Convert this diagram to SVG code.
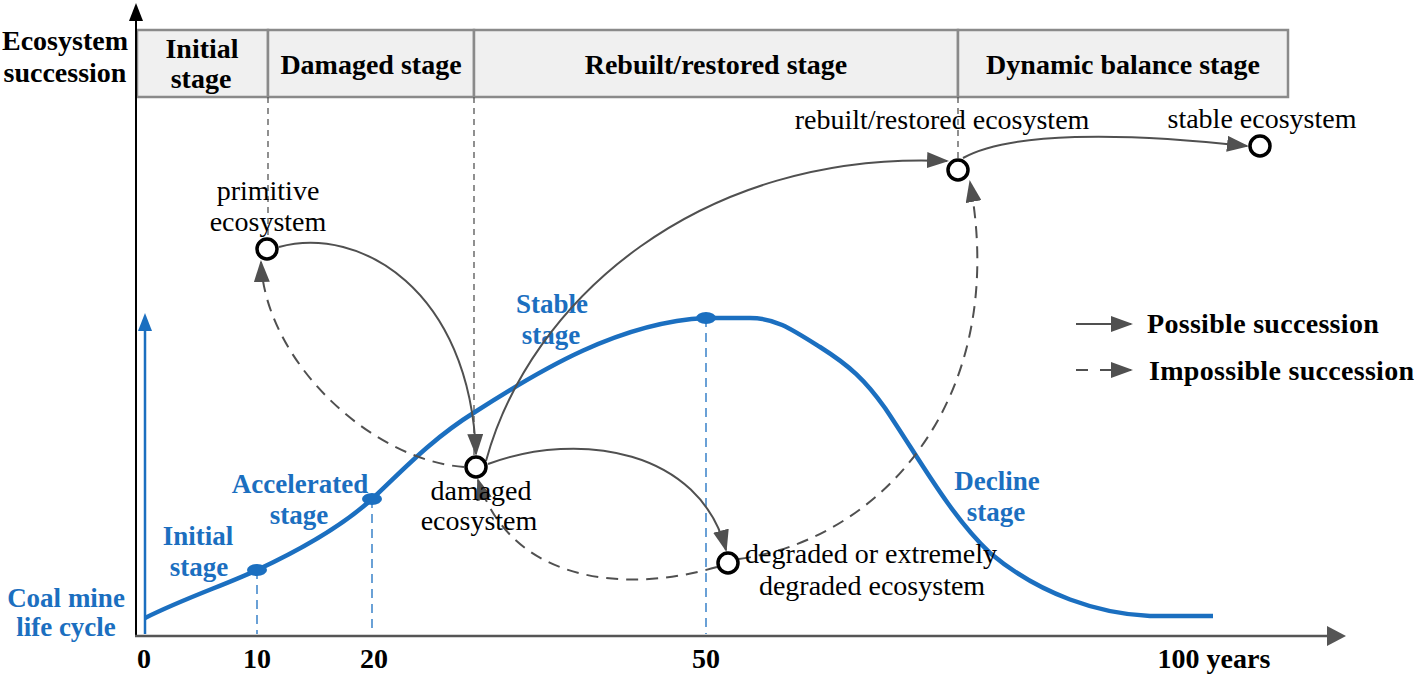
<svg xmlns="http://www.w3.org/2000/svg" width="1416" height="676" viewBox="0 0 1416 676">
<style>
.hdr{font-family:"Liberation Serif",serif;font-weight:bold;font-size:28px;fill:#000;text-anchor:middle}
.lbl{font-family:"Liberation Serif",serif;font-size:28px;fill:#000;text-anchor:middle}
.blue{font-family:"Liberation Serif",serif;font-weight:bold;font-size:27px;fill:#1b6fc0;text-anchor:middle}
.leg{font-family:"Liberation Serif",serif;font-weight:bold;font-size:28px;fill:#000;letter-spacing:0.3px}
.node{fill:#fff;stroke:#000;stroke-width:3.5}
.solid{fill:none;stroke:#505050;stroke-width:2}
.dash{fill:none;stroke:#505050;stroke-width:2;stroke-dasharray:12 8}
.gdash{fill:none;stroke:#555;stroke-width:1.3;stroke-dasharray:6 5}
.bdash{fill:none;stroke:#1b6fc0;stroke-width:1.3;stroke-dasharray:9 6}
.cell{fill:#f0f0f0;stroke:#8a8a8a;stroke-width:2.5}
</style>
<defs>
<marker id="ah" markerWidth="22" markerHeight="16" refX="20" refY="8" orient="auto" markerUnits="userSpaceOnUse">
<path d="M0,0 L22,8 L0,16 z" fill="#505050"/>
</marker>
</defs>

<!-- header table -->
<g id="header">
<rect class="cell" x="137" y="30" width="131" height="67"/>
<rect class="cell" x="268" y="30" width="206" height="67"/>
<rect class="cell" x="474" y="30" width="484" height="67"/>
<rect class="cell" x="958" y="30" width="330" height="67"/>
<text class="hdr" x="202" y="58">Initial</text>
<text class="hdr" x="201" y="88">stage</text>
<text class="hdr" x="371" y="74">Damaged stage</text>
<text class="hdr" x="716" y="74">Rebuilt/restored stage</text>
<text class="hdr" x="1123" y="74">Dynamic balance stage</text>
<text class="hdr" x="65" y="50">Ecosystem</text>
<text class="hdr" x="65" y="82">succession</text>
</g>

<!-- gray dashed stage guides -->
<g id="guides">
<line class="gdash" x1="268" y1="97" x2="268" y2="238"/>
<line class="gdash" x1="474" y1="97" x2="474" y2="455"/>
<line class="gdash" x1="958" y1="97" x2="958" y2="158"/>
</g>

<!-- axes -->
<g id="axes">
<line x1="136" y1="636" x2="136" y2="18" stroke="#000" stroke-width="2"/>
<path d="M136,3 L129,21 L143,21 z" fill="#000"/>
<line x1="135" y1="636" x2="1330" y2="636" stroke="#555" stroke-width="2.5"/>
<path d="M1346,636 L1327,626 L1327,646 z" fill="#555"/>
<line x1="145" y1="634" x2="145" y2="328" stroke="#1b6fc0" stroke-width="2.5"/>
<path d="M145,313 L138,331 L152,331 z" fill="#1b6fc0"/>
<text class="hdr" x="144" y="668">0</text>
<text class="hdr" x="257" y="668">10</text>
<text class="hdr" x="374" y="668">20</text>
<text class="hdr" x="706" y="668">50</text>
<text class="hdr" x="1214" y="668">100 years</text>
</g>

<!-- coal mine life cycle curve -->
<g id="lifecycle">
<line class="bdash" x1="257" y1="570" x2="257" y2="634"/>
<line class="bdash" x1="372" y1="499" x2="372" y2="634"/>
<line class="bdash" x1="706" y1="318" x2="706" y2="634"/>
<path d="M145,618 C185,598 225,585 257,570 C300,550 340,528 372,499 C400,473 430,440 475,412 C540,370 620,322 706,318 L750,318 C775,318 790,328 820,347 C850,366 865,380 885,408 C920,460 950,515 990,553 C1040,595 1100,614 1150,616 L1213,616" fill="none" stroke="#1b6fc0" stroke-width="4.5"/>
<ellipse cx="257" cy="570" rx="10" ry="6" fill="#1b6fc0"/>
<ellipse cx="372" cy="499" rx="10" ry="6" fill="#1b6fc0"/>
<ellipse cx="706" cy="318" rx="10" ry="6" fill="#1b6fc0"/>
<text class="blue" x="66" y="607">Coal mine</text>
<text class="blue" x="66" y="636">life cycle</text>
<text class="blue" x="198" y="545">Initial</text>
<text class="blue" x="199" y="576">stage</text>
<text class="blue" x="300" y="493">Accelerated</text>
<text class="blue" x="299" y="524">stage</text>
<text class="blue" x="552" y="313">Stable</text>
<text class="blue" x="551" y="344">stage</text>
<text class="blue" x="997" y="490">Decline</text>
<text class="blue" x="996" y="521">stage</text>
</g>

<!-- connectors -->
<g id="connectors">
<path class="solid" d="M279,247 C360,225 470,290 476,454" marker-end="url(#ah)"/>
<path class="solid" d="M486,461 C530,300 700,150 947,161" marker-end="url(#ah)"/>
<path class="solid" d="M488,464 C580,430 700,450 726,550" marker-end="url(#ah)"/>
<path class="solid" d="M963,158 C1010,132 1120,132 1247,146" marker-end="url(#ah)"/>
<path class="dash" d="M464,467 C370,460 265,360 261,262" marker-end="url(#ah)"/>
<path class="dash" d="M717,567 C620,595 510,580 478,480" marker-end="url(#ah)"/>
<path class="dash" d="M739,559 C880,540 1010,400 970,182" marker-end="url(#ah)"/>
</g>

<!-- nodes -->
<g id="node-primitive">
<circle class="node" cx="267" cy="249" r="10"/>
<text class="lbl" x="268" y="200">primitive</text>
<text class="lbl" x="268" y="231">ecosystem</text>
</g>
<g id="node-damaged">
<circle class="node" cx="476" cy="467" r="10"/>
<text class="lbl" x="481" y="500">damaged</text>
<text class="lbl" x="479" y="530">ecosystem</text>
</g>
<g id="node-degraded">
<circle class="node" cx="728" cy="563" r="10"/>
<text class="lbl" x="871" y="563">degraded or extremely</text>
<text class="lbl" x="872" y="595">degraded ecosystem</text>
</g>
<g id="node-rebuilt">
<circle class="node" cx="958" cy="170" r="10"/>
<text class="lbl" x="942" y="129">rebuilt/restored ecosystem</text>
</g>
<g id="node-stable">
<circle class="node" cx="1260" cy="146" r="10"/>
<text class="lbl" x="1262" y="128">stable ecosystem</text>
</g>

<!-- legend -->
<g id="legend">
<line class="solid" x1="1076" y1="324" x2="1131" y2="324" marker-end="url(#ah)"/>
<line x1="1076" y1="370" x2="1088" y2="370" stroke="#505050" stroke-width="2"/>
<line x1="1100" y1="370" x2="1131" y2="370" stroke="#505050" stroke-width="2" marker-end="url(#ah)"/>
<text class="leg" x="1147" y="333">Possible succession</text>
<text class="leg" x="1149" y="380">Impossible succession</text>
</g>
</svg>
